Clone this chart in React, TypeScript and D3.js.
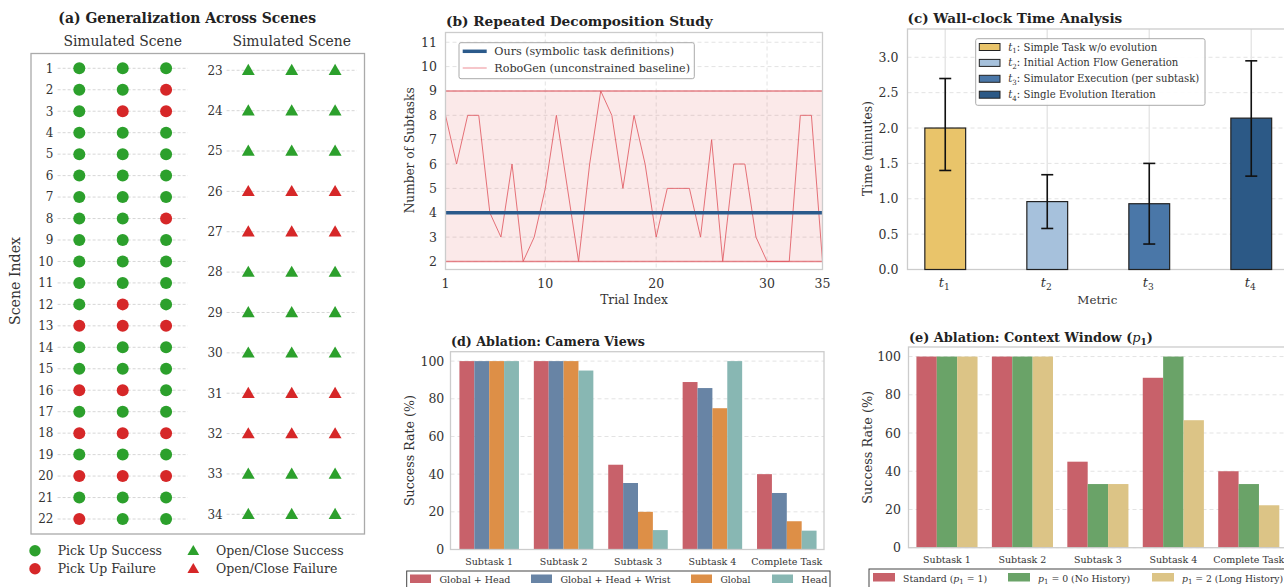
import React, { useLayoutEffect, useRef, useState } from "react";
import * as d3 from "d3";

const FONT = "'DejaVu Serif', serif";
const GREEN = "#2ca02c";
const RED = "#d62728";
const TXT = "#333";

// (a) generalization across scenes: 1 = success, 0 = failure, three trials per scene
const pickScenes = d3.range(1, 23);
const pickResults = [
  [1, 1, 1], [1, 1, 0], [1, 0, 0], [1, 1, 1], [1, 1, 1], [1, 1, 1], [1, 1, 1], [1, 1, 0],
  [1, 1, 1], [1, 1, 1], [1, 1, 1], [1, 0, 1], [0, 0, 0], [1, 1, 1], [1, 1, 1], [0, 0, 1],
  [1, 1, 1], [0, 0, 0], [1, 1, 1], [0, 0, 0], [1, 1, 1], [0, 1, 1],
];
const openScenes = d3.range(23, 35);
const openResults = [
  [1, 1, 1], [1, 1, 1], [1, 1, 1], [0, 0, 0], [0, 0, 0], [1, 1, 1],
  [1, 1, 1], [1, 1, 1], [0, 0, 0], [0, 0, 0], [1, 1, 1], [1, 1, 1],
];

// (b) repeated decomposition
const trials = d3.range(1, 36);
const robogenSubtasks = [8, 6, 8, 8, 4, 3, 6, 2, 3, 5, 8, 5, 2, 6, 9, 8, 5, 8, 6, 3, 5, 5, 5, 3, 7, 2, 6, 6, 3, 2, 2, 2, 8, 8, 2];
const oursSubtasks = 4;
const bTicksY = d3.range(2, 12);
const bTicksX = [1, 10, 20, 30, 35];

// (c) wall-clock time
const timeMetrics = ["1", "2", "3", "4"];
const timeMeans = [2.0, 0.96, 0.93, 2.14];
const timeLow = [1.4, 0.58, 0.36, 1.32];
const timeHigh = [2.7, 1.34, 1.5, 2.95];
const timeLegend = [
  "Simple Task w/o evolution",
  "Initial Action Flow Generation",
  "Simulator Execution (per subtask)",
  "Single Evolution Iteration",
];
const timeColors = ["#e9c46a", "#a6c1dc", "#4a77a8", "#2c5986"];

// (d) camera views
const subtasks = ["Subtask 1", "Subtask 2", "Subtask 3", "Subtask 4", "Complete Task"];
const camGlobalHead = [100, 100, 45, 88.9, 40];
const camGlobalHeadWrist = [100, 100, 35.3, 85.7, 30];
const camGlobal = [100, 100, 20, 75, 15];
const camHead = [100, 95, 10.3, 100, 10];
const camNames = ["Global + Head", "Global + Head + Wrist", "Global", "Head"];
const camColors = ["#c8616a", "#6884a5", "#dd8f47", "#88b7b3"];

// (e) context window
const ctxStandard = [100, 100, 45, 88.9, 40];
const ctxNoHistory = [100, 100, 33.3, 100, 33.3];
const ctxLong = [100, 100, 33.3, 66.7, 22.2];
const ctxColors = ["#c8616a", "#6aa368", "#dcc486"];
const rateTicks = [0, 20, 40, 60, 80, 100];

function FitText({ w, size, children, ...rest }: any) {
  const ref = useRef<SVGTextElement>(null);
  const [fs, setFs] = useState(size);
  useLayoutEffect(() => {
    const el = ref.current;
    if (!el) return;
    const len = el.getComputedTextLength();
    if (len > 0) setFs((size * w) / len);
  }, []);
  return (
    <text ref={ref} fontSize={fs} fill={TXT} {...rest}>
      {children}
    </text>
  );
}

function Circle({ x, y, ok, r = 6 }: any) {
  return <circle cx={x} cy={y} r={r} fill={ok ? GREEN : RED} />;
}

function Tri({ x, y, ok, size = 72 }: any) {
  const p = d3.symbol(d3.symbolTriangle, size)() as string;
  return <path d={p} transform={`translate(${x},${y + 1})`} fill={ok ? GREEN : RED} />;
}

function PanelA() {
  const yL = d3.scaleLinear().domain([1, 22]).range([68.3, 519]);
  const yR = d3.scaleLinear().domain([23, 34]).range([70.3, 514.3]);
  const xL = d3.scaleLinear().domain([-0.5, 2.5]).range([57.6, 187.8]);
  const xR = d3.scaleLinear().domain([-0.5, 2.5]).range([226.6, 356.8]);
  return (
    <g>
      <FitText x={187.2} y={23} w={258} size={13} textAnchor="middle" fontWeight="bold" fill="#222">
        (a) Generalization Across Scenes
      </FitText>
      <FitText x={122.7} y={45.5} w={118.7} size={13} textAnchor="middle">Simulated Scene</FitText>
      <FitText x={291.7} y={45.5} w={118.7} size={13} textAnchor="middle">Simulated Scene</FitText>
      <rect x={31} y={53.5} width={333.5} height={480.5} fill="none" stroke="#aaa" strokeWidth={1.3} />
      <FitText transform="translate(20,281) rotate(-90)" w={88} size={12.5} textAnchor="middle">Scene Index</FitText>
      {pickScenes.map((s, i) => (
        <g key={s}>
          <line x1={xL(-0.5)} x2={xL(2.5)} y1={yL(s)} y2={yL(s)} stroke="#ccc" strokeDasharray="3,2" strokeWidth={0.8} />
          <text x={53.5} y={yL(s) + 4.3} textAnchor="end" fontSize={12} fill={TXT}>{s}</text>
          {pickResults[i].map((ok, j) => <Circle key={j} x={xL(j)} y={yL(s)} ok={ok} />)}
        </g>
      ))}
      {openScenes.map((s, i) => (
        <g key={s}>
          <line x1={xR(-0.5)} x2={xR(2.5)} y1={yR(s)} y2={yR(s)} stroke="#ccc" strokeDasharray="3,2" strokeWidth={0.8} />
          <text x={222.7} y={yR(s) + 4.3} textAnchor="end" fontSize={12} fill={TXT}>{s}</text>
          {openResults[i].map((ok, j) => <Tri key={j} x={xR(j)} y={yR(s)} ok={ok} />)}
        </g>
      ))}
      <Circle x={35} y={550.7} ok={1} r={5.7} />
      <text x={57.7} y={555} fontSize={12.5} fill={TXT}>Pick Up Success</text>
      <Circle x={35} y={568.7} ok={0} r={5.7} />
      <text x={57.7} y={573} fontSize={12.5} fill={TXT}>Pick Up Failure</text>
      <Tri x={193.3} y={550.7} ok={1} size={60} />
      <text x={216} y={555} fontSize={12.5} fill={TXT}>Open/Close Success</text>
      <Tri x={193.3} y={568.7} ok={0} size={60} />
      <text x={216} y={573} fontSize={12.5} fill={TXT}>Open/Close Failure</text>
    </g>
  );
}

function PanelB() {
  const x = d3.scaleLinear().domain([1, 35]).range([445.5, 822.5]);
  const y = d3.scaleLinear().domain([1.67, 11.4]).range([269.5, 32.5]);
  const line = d3.line<number>().x((_, i) => x(trials[i])).y((d) => y(d));
  const lo = d3.min(robogenSubtasks) as number;
  const hi = d3.max(robogenSubtasks) as number;
  return (
    <g>
      <FitText x={446} y={26} w={267} size={13} fontWeight="bold" fill="#222">(b) Repeated Decomposition Study</FitText>
      {bTicksY.map((t) => (
        <g key={t}>
          <line x1={x(1)} x2={x(35)} y1={y(t)} y2={y(t)} stroke="#e3e3e3" strokeDasharray="4,3" />
          <text x={437} y={y(t) + 4.5} textAnchor="end" fontSize={12.5} fill={TXT}>{t}</text>
        </g>
      ))}
      {bTicksX.map((t) => (
        <g key={t}>
          <line x1={x(t)} x2={x(t)} y1={32.5} y2={269.5} stroke="#e3e3e3" strokeDasharray="4,3" />
          <text x={x(t)} y={288} textAnchor="middle" fontSize={12.5} fill={TXT}>{t}</text>
        </g>
      ))}
      <rect x={x(1)} y={y(hi)} width={x(35) - x(1)} height={y(lo) - y(hi)} fill={RED} fillOpacity={0.1} />
      <line x1={x(1)} x2={x(35)} y1={y(hi)} y2={y(hi)} stroke="#e0656d" strokeWidth={1.5} strokeOpacity={0.8} />
      <line x1={x(1)} x2={x(35)} y1={y(lo)} y2={y(lo)} stroke="#e0656d" strokeWidth={1.5} strokeOpacity={0.8} />
      <path d={line(robogenSubtasks) as string} fill="none" stroke="#e05a63" strokeWidth={1} strokeOpacity={0.85} />
      <line x1={x(1)} x2={x(35)} y1={y(oursSubtasks)} y2={y(oursSubtasks)} stroke="#2b5a8b" strokeWidth={3.5} />
      <rect x={445.5} y={32.5} width={377} height={237} fill="none" stroke="#ccc" strokeWidth={1.3} />
      <rect x={459} y={42.7} width={235.3} height={36} rx={2} fill="#fff" fillOpacity={0.9} stroke="#aaa" />
      <line x1={462.7} x2={486.7} y1={51.3} y2={51.3} stroke="#2b5a8b" strokeWidth={3.5} />
      <FitText x={494.3} y={55.3} w={180} size={11}>Ours (symbolic task definitions)</FitText>
      <line x1={462.7} x2={486.7} y1={68} y2={68} stroke="#f0a0a6" strokeWidth={1.2} />
      <FitText x={494.3} y={72} w={196} size={11}>RoboGen (unconstrained baseline)</FitText>
      <FitText transform="translate(414,150.3) rotate(-90)" w={126} size={12.5} textAnchor="middle">Number of Subtasks</FitText>
      <FitText x={634} y={303.5} w={67.7} size={12.5} textAnchor="middle">Trial Index</FitText>
    </g>
  );
}

function TSub({ x, y, sym, sub, anchor = "start", size = 11, rest = "" }: any) {
  return (
    <text x={x} y={y} textAnchor={anchor} fontSize={size} fill={TXT}>
      <tspan fontStyle="italic">{sym}</tspan>
      <tspan fontSize={size * 0.7} dy={size * 0.25}>{sub}</tspan>
      {rest ? <tspan dy={-size * 0.25}>{rest}</tspan> : null}
    </text>
  );
}

function PanelC() {
  const x = d3.scaleLinear().domain([-0.37, 3.37]).range([907.5, 1289]);
  const y = d3.scaleLinear().domain([0, 3.4]).range([269.5, 29]);
  const bw = x(0.4) - x(0);
  const ticks = d3.range(0, 3.01, 0.5);
  return (
    <g>
      <FitText x={907.5} y={23} w={215} size={13} fontWeight="bold" fill="#222">(c) Wall-clock Time Analysis</FitText>
      {ticks.map((t) => (
        <g key={t}>
          <line x1={907.5} x2={1289} y1={y(t)} y2={y(t)} stroke="#e3e3e3" strokeDasharray="4,3" />
          <text x={898.5} y={y(t) + 4.5} textAnchor="end" fontSize={12.5} fill={TXT}>{d3.format(".1f")(t)}</text>
        </g>
      ))}
      {timeMetrics.map((m, i) => (
        <line key={m} x1={x(i)} x2={x(i)} y1={29} y2={269.5} stroke="#e6e6e6" strokeWidth={1.5} />
      ))}
      <rect x={907.5} y={29} width={400} height={240.5} fill="none" stroke="#ccc" strokeWidth={1.3} />
      {timeMetrics.map((m, i) => (
        <g key={m}>
          <rect x={x(i) - bw / 2} y={y(timeMeans[i])} width={bw} height={y(0) - y(timeMeans[i])}
            fill={timeColors[i]} stroke="#222" strokeWidth={1.2} />
          <line x1={x(i)} x2={x(i)} y1={y(timeLow[i])} y2={y(timeHigh[i])} stroke="#111" strokeWidth={1.6} />
          <line x1={x(i) - 6} x2={x(i) + 6} y1={y(timeLow[i])} y2={y(timeLow[i])} stroke="#111" strokeWidth={1.6} />
          <line x1={x(i) - 6} x2={x(i) + 6} y1={y(timeHigh[i])} y2={y(timeHigh[i])} stroke="#111" strokeWidth={1.6} />
          <TSub x={x(i) - 1} y={287} sym="t" sub={m} anchor="middle" size={13} />
        </g>
      ))}
      <rect x={975.7} y={38.7} width={229.3} height={66.6} rx={2} fill="#fff" fillOpacity={0.9} stroke="#aaa" />
      {timeLegend.map((l, i) => (
        <g key={l}>
          <rect x={979.3} y={43.5 + i * 15.9} width={20.7} height={7} fill={timeColors[i]} stroke="#222" strokeWidth={1} />
          <TSub x={1008.3} y={50.5 + i * 15.9} sym="t" sub={timeMetrics[i]} rest={": " + l} size={10.1} />
        </g>
      ))}
      <FitText transform="translate(872,148.5) rotate(-90)" w={95} size={12.5} textAnchor="middle">Time (minutes)</FitText>
      <FitText x={1097.3} y={303.5} w={40} size={12.5} textAnchor="middle">Metric</FitText>
    </g>
  );
}

function GroupedBars({ x, y, series, colors, width }: any) {
  const n = series.length;
  return (
    <g>
      {series.map((vals: number[], s: number) =>
        vals.map((v, c) => {
          const cx = c + (s - (n - 1) / 2) * width;
          return (
            <rect key={`${s}-${c}`} x={x(cx - width / 2)} y={y(v)} width={x(width) - x(0)}
              height={y(0) - y(v)} fill={colors[s]} />
          );
        })
      )}
    </g>
  );
}

function RateAxes({ x, y, left, right, top, bottom, tickX, labelX, labelY, labelW }: any) {
  return (
    <g>
      {rateTicks.map((t) => (
        <g key={t}>
          <line x1={left} x2={right} y1={y(t)} y2={y(t)} stroke="#e3e3e3" strokeDasharray="4,3" />
          <text x={tickX} y={y(t) + 4.5} textAnchor="end" fontSize={12.5} fill={TXT}>{t}</text>
        </g>
      ))}
      {subtasks.map((s, i) => (
        <text key={s} x={x(i)} y={labelY} textAnchor="middle" fontSize={9.5} fill={TXT}>{s}</text>
      ))}
      <FitText transform={`translate(${labelX},${(top + bottom) / 2}) rotate(-90)`} w={labelW} size={12.5} textAnchor="middle">
        Success Rate (%)
      </FitText>
    </g>
  );
}

function PanelD() {
  const x = d3.scaleLinear().domain([-0.52, 4.5]).range([450.5, 824]);
  const y = d3.scaleLinear().domain([0, 105]).range([549.5, 351.7]);
  const legendX = [410, 531, 691, 772];
  const legendW = [71, 110, 30, 26];
  return (
    <g>
      <FitText x={451} y={346} w={194} size={13} fontWeight="bold" fill="#222">(d) Ablation: Camera Views</FitText>
      <RateAxes x={x} y={y} left={450.5} right={824} top={351.7} bottom={549.5} tickX={444.3} labelX={414} labelY={565} labelW={111} />
      <GroupedBars x={x} y={y} width={0.2} colors={camColors}
        series={[camGlobalHead, camGlobalHeadWrist, camGlobal, camHead]} />
      <rect x={450.5} y={351.7} width={373.5} height={197.8} fill="none" stroke="#ccc" strokeWidth={1.3} />
      <rect x={406.7} y={571} width={423.3} height={25} fill="#fff" stroke="#444" />
      {camNames.map((n, i) => (
        <g key={n}>
          <rect x={legendX[i]} y={574.5} width={21} height={8.5} fill={camColors[i]} />
          <FitText x={legendX[i] + 29.5} y={582.5} w={legendW[i]} size={9.6}>{n}</FitText>
        </g>
      ))}
    </g>
  );
}

function PLabel({ x, w, value, rest, pre = "" }: any) {
  return (
    <FitText x={x} y={581.5} w={w} size={9.6}>
      {pre}<tspan fontStyle="italic">p</tspan><tspan fontSize={7} dy={2.5}>1</tspan>
      <tspan dy={-2.5}>{` = ${value}${rest}`}</tspan>
    </FitText>
  );
}

function PanelE() {
  const x = d3.scaleLinear().domain([-0.51, 4.5]).range([908.5, 1286.5]);
  const y = d3.scaleLinear().domain([0, 105]).range([547.7, 347]);
  const legendX = [873, 1008, 1152];
  return (
    <g>
      <FitText x={909} y={342} w={244} size={13} fontWeight="bold" fill="#222">
        (e) Ablation: Context Window (<tspan fontStyle="italic" fontWeight="normal">p</tspan>
        <tspan fontSize={9} dy={3}>1</tspan><tspan dy={-3}>)</tspan>
      </FitText>
      <RateAxes x={x} y={y} left={908.5} right={1290} top={347} bottom={547.7} tickX={901} labelX={872} labelY={562.5} labelW={113} />
      <GroupedBars x={x} y={y} width={0.27} colors={ctxColors} series={[ctxStandard, ctxNoHistory, ctxLong]} />
      <rect x={908.5} y={347} width={400} height={200.7} fill="none" stroke="#ccc" strokeWidth={1.3} />
      <rect x={869} y={569} width={430} height={25} fill="#fff" stroke="#444" />
      {ctxColors.map((c, i) => (
        <rect key={c} x={legendX[i]} y={573} width={22} height={8.5} fill={c} />
      ))}
      <PLabel x={903} w={84} pre="Standard (" value={1} rest=")" />
      <PLabel x={1038} w={92} value={0} rest=" (No History)" />
      <PLabel x={1182} w={101} value={2} rest=" (Long History)" />
    </g>
  );
}

export default function App() {
  return (
    <svg width={1284} height={587} fontFamily={FONT}
      style={{ position: "absolute", left: 0, top: 0, background: "#fff" }}>
      <rect width={1284} height={587} fill="#fff" />
      <PanelA />
      <PanelB />
      <PanelC />
      <PanelD />
      <PanelE />
    </svg>
  );
}
